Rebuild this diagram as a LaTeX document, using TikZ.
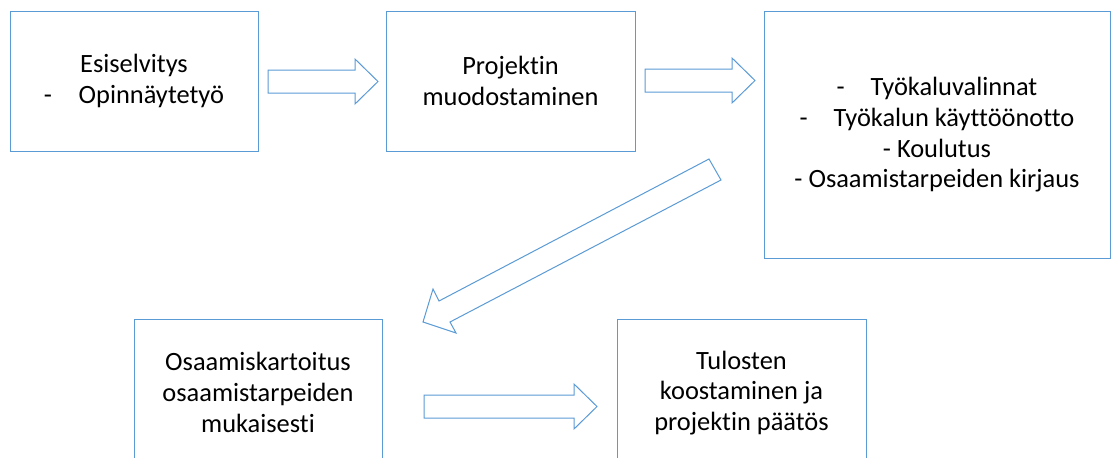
\documentclass[tikz,border=0pt]{standalone}
\usepackage{fontspec}
\setmainfont{Carlito}[Ligatures={NoCommon}]
\definecolor{boxblue}{RGB}{91,155,213}
\tikzset{
  box/.style={draw=boxblue, line width=0.75pt, rectangle, inner sep=0pt, align=center,
    font=\fontsize{19.8}{23}\selectfont},
  blockarrow/.style={draw=boxblue, line width=0.75pt, fill=white, line join=miter}
}
\begin{document}
\begin{tikzpicture}[x=0.75pt, y=-0.75pt]
    \useasboundingbox (0,0) rectangle (1113,457);
    \clip (0,0) rectangle (1113,457);
    \node[box, minimum width=186pt, minimum height=105pt] (esi) at (134,81)
        {Esiselvitys\\-\hspace{20pt}Opinnäytetyö};
    \node[box, minimum width=186.75pt, minimum height=105pt] (proj) at (510.5,81)
        {Projektin\\muodostaminen};
    \node[box, minimum width=259.5pt, minimum height=185.25pt, text depth=3pt] (tyo) at (937,134.5)
        {-\hspace{19.5pt}Työkaluvalinnat\\-\hspace{19.5pt}Työkalun käyttöönotto\\- Koulutus\\- Osaamistarpeiden kirjaus};
    \node[box, minimum width=186pt, minimum height=110.25pt] (osa) at (258,392.5)
        {Osaamiskartoitus\\osaamistarpeiden\\mukaisesti};
    \node[box, minimum width=186.75pt, minimum height=110.25pt] (tul) at (741.5,393)
        {Tulosten\\koostaminen ja\\projektin päätös};
    % block arrows
    \draw[blockarrow] (268,70) -- (355,70) -- (355,59) -- (378,81.5) -- (355,104) -- (355,93) -- (268,93) -- cycle;
    \draw[blockarrow] (645,69) -- (732,69) -- (732,58) -- (755,80.5) -- (732,103) -- (732,92) -- (645,92) -- cycle;
    \draw[blockarrow] (709,159) -- (721,180) -- (450,322) -- (456,333) -- (423,322) -- (433,289) -- (439,301) -- cycle;
    \draw[blockarrow] (424,395) -- (574,395) -- (574,384) -- (597,406.5) -- (574,429) -- (574,418) -- (424,418) -- cycle;
\end{tikzpicture}
\end{document}
